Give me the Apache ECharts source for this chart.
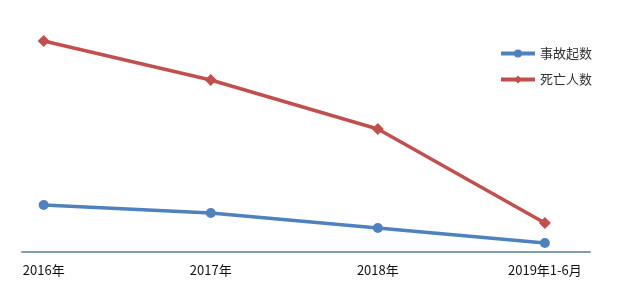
<!DOCTYPE html>
<html><head><meta charset="utf-8">
<script src="https://cdn.jsdelivr.net/npm/echarts@6/dist/echarts.min.js"></script>
<style>html,body{margin:0;padding:0;background:#fff}#c{width:618px;height:305px}</style>
</head><body><div id="c"></div>
<script>
const categories = ['2016年', '2017年', '2018年', '2019年1-6月'];
const accidents = [47, 39, 24, 9];
const deaths = [211, 172, 123, 29];
const chart = echarts.init(document.getElementById('c'));
chart.setOption({
  animation: false,
  grid: { left: 22, right: 28, top: 20, bottom: 53 },
  legend: {
    orient: 'vertical', left: 499, top: 47, padding: 0, itemWidth: 34, itemHeight: 10, itemGap: 13,
    textStyle: { fontSize: 13, color: '#333', fontFamily: 'Noto Sans CJK SC' },
    lineStyle: { width: 4 },
    data: ['事故起数', '死亡人数']
  },
  xAxis: {
    type: 'value', min: -0.13, max: 3.27,
    axisLine: { show: true, lineStyle: { color: '#7f9db3', width: 2 } },
    axisTick: { show: false },
    splitLine: { show: false },
    axisLabel: {
      customValues: [0, 1, 2, 3],
      formatter: v => categories[Math.round(v)],
      color: '#111', fontSize: 13, margin: 12,
      fontFamily: 'Noto Sans CJK SC'
    }
  },
  yAxis: { type: 'value', min: 0, max: 232, show: false, splitLine: { show: false } },
  series: [
    {
      name: '事故起数', type: 'line', data: accidents.map((v, i) => [i, v]),
      symbol: 'circle', symbolSize: 10,
      lineStyle: { color: '#4f81bd', width: 3.5 }, itemStyle: { color: '#4f81bd' }
    },
    {
      name: '死亡人数', type: 'line', data: deaths.map((v, i) => [i, v]),
      symbol: 'diamond', symbolSize: 12,
      lineStyle: { color: '#c0504d', width: 3.5 }, itemStyle: { color: '#c0504d' }
    }
  ]
});
</script></body></html>
